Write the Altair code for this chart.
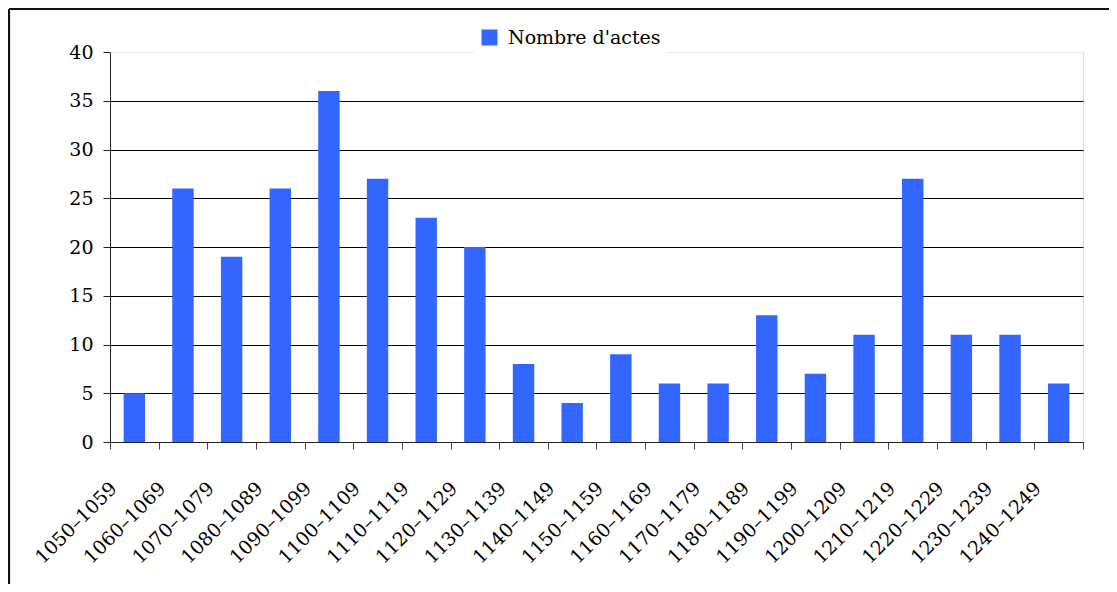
import altair as alt
import pandas as pd

periods = ["1050–1059", "1060–1069", "1070–1079", "1080–1089", "1090–1099",
           "1100–1109", "1110–1119", "1120–1129", "1130–1139", "1140–1149",
           "1150–1159", "1160–1169", "1170–1179", "1180–1189", "1190–1199",
           "1200–1209", "1210–1219", "1220–1229", "1230–1239", "1240–1249"]
counts = [5, 26, 19, 26, 36, 27, 23, 20, 8, 4, 9, 6, 6, 13, 7, 11, 27, 11, 11, 6]
series_name = "Nombre d'actes"
y_ticks = [0, 5, 10, 15, 20, 25, 30, 35, 40]

df = pd.DataFrame({"periode": periods, "actes": counts, "serie": series_name})

FONT = "DejaVu Serif"
W, H = 973, 390

bars = alt.Chart(df).mark_bar(color="#3366ff", width=alt.RelativeBandSize(0.44)).encode(
    x=alt.X("periode:N", sort=periods, title=None,
            scale=alt.Scale(paddingInner=0, paddingOuter=0),
            axis=alt.Axis(labelAngle=-45, labelAlign="right", labelBaseline="middle",
                          labelFont=FONT, labelFontSize=19, labelColor="black",
                          labelPadding=36, labelOffset=-21,
                          tickBand="extent", tickSize=7, tickColor="#444",
                          domainColor="#222", grid=False)),
    y=alt.Y("actes:Q", title=None,
            scale=alt.Scale(domain=[0, 40], nice=False),
            axis=alt.Axis(values=y_ticks, labelFont=FONT, labelFontSize=19,
                          labelColor="black", labelPadding=10, tickSize=7,
                          tickColor="#222", domainColor="#222",
                          grid=True,
                          gridColor=alt.condition("datum.value == 40",
                                                  alt.value("#ececec"),
                                                  alt.value("#000000")))),
    fill=alt.Fill("serie:N", title=None,
                  scale=alt.Scale(range=["#3366ff"]),
                  legend=alt.Legend(orient="none", legendX=364, legendY=-30,
                                    padding=6, fillColor="white",
                                    symbolType="square", symbolSize=256,
                                    symbolStrokeWidth=0, labelOffset=9,
                                    labelFont=FONT, labelFontSize=19,
                                    labelColor="black")),
)

frame = alt.Chart(alt.Data(values=[{}]))
left_rule = frame.mark_rule(color="#111", strokeWidth=2.2, clip=False).encode(
    x=alt.value(-101), y=alt.value(-43), y2=alt.value(560))
top_rule = frame.mark_rule(color="#111", strokeWidth=2.2, clip=False).encode(
    x=alt.value(-101), x2=alt.value(1010), y=alt.value(-43))

chart = alt.layer(bars, left_rule, top_rule).properties(
    width=W, height=H,
    autosize=alt.AutoSizeParams(type="none"),
    padding={"left": 102, "top": 44, "right": 26, "bottom": 142},
).configure_view(stroke=None).configure(background="white")

chart.save("out.html", embed_options={"renderer": "svg", "actions": False})
